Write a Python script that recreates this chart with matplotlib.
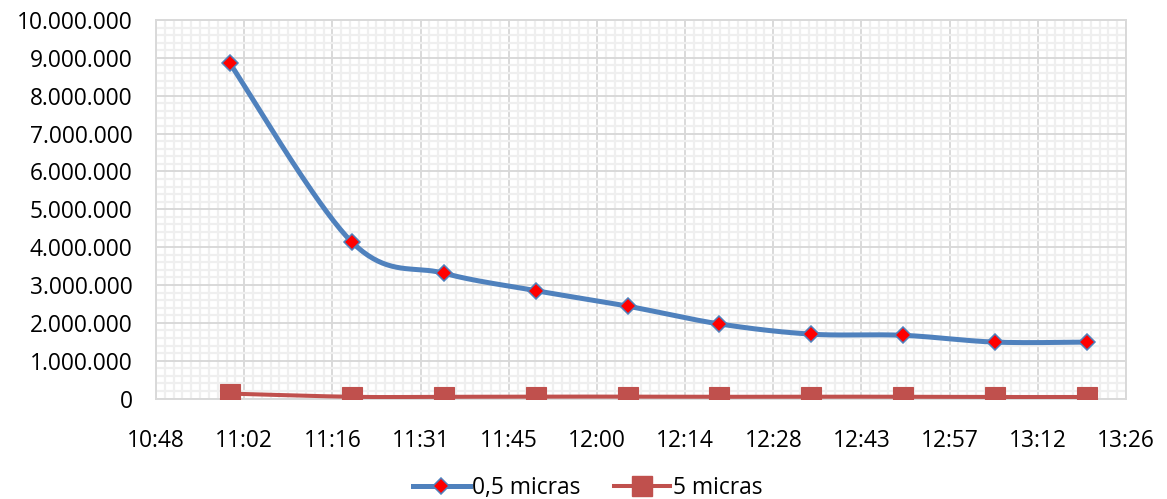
import numpy as np
import matplotlib
matplotlib.use("Agg")
import matplotlib.pyplot as plt
from matplotlib.ticker import MultipleLocator, FuncFormatter
from matplotlib.lines import Line2D

# Sampling times (hh:mm) and particle counts
times = ["11:00", "11:20", "11:35", "11:50", "12:05", "12:20", "12:35", "12:50", "13:05", "13:20"]
micras_05 = [8870000, 4130000, 3310000, 2850000, 2440000, 1970000, 1700000, 1670000, 1490000, 1490000]
micras_5 = [130000, 45000, 45000, 50000, 50000, 45000, 50000, 45000, 40000, 40000]
series_labels = ["0,5 micras", "5 micras"]

BLUE = "#4F81BD"
RED = "#C0504D"
FS = 16.4


def day_fraction(hhmm):
    h, m = hhmm.split(":")
    return (int(h) * 60 + int(m)) / 1440.0


def fmt_time(v, pos=None):
    minutes = int(np.floor(v * 1440 + 1e-6))
    return f"{minutes // 60}:{minutes % 60:02d}"


def fmt_thousands(v, pos=None):
    return f"{int(round(v)):,}".replace(",", ".")


def smooth_curve(xs, ys, sx, sy, n=40):
    """Cubic Bezier smoothing (Catmull-Rom style tangents) in screen-scaled space."""
    pts = np.column_stack([np.asarray(xs) / sx, np.asarray(ys) / sy])
    k = len(pts)
    t = np.linspace(0, 1, n)[:, None]
    out = []
    for i in range(k - 1):
        p0 = pts[max(i - 1, 0)]
        p1 = pts[i]
        p2 = pts[i + 1]
        p3 = pts[min(i + 2, k - 1)]
        c1 = p1 + (p2 - p0) / 6.0
        c2 = p2 - (p3 - p1) / 6.0
        seg = ((1 - t) ** 3) * p1 + 3 * ((1 - t) ** 2) * t * c1 + 3 * (1 - t) * t ** 2 * c2 + t ** 3 * p2
        out.append(seg if i == 0 else seg[1:])
    out = np.vstack(out)
    return out[:, 0] * sx, out[:, 1] * sy


x = np.array([day_fraction(t) for t in times])

plt.rcParams["font.family"] = ["Open Sans", "DejaVu Sans"]

fig = plt.figure(figsize=(11.67, 4.99), dpi=100)
ax = fig.add_axes([0.1337, 0.2014, 0.8312, 0.7585])

x_min, x_max = 0.45, 0.56
y_min, y_max = 0, 10_000_000
ax.set_xlim(x_min, x_max)
ax.set_ylim(y_min, y_max)

ax.xaxis.set_major_locator(MultipleLocator(0.01))
ax.xaxis.set_minor_locator(MultipleLocator(0.001))
ax.yaxis.set_major_locator(MultipleLocator(1_000_000))
ax.yaxis.set_minor_locator(MultipleLocator(200_000))
ax.xaxis.set_major_formatter(FuncFormatter(fmt_time))
ax.yaxis.set_major_formatter(FuncFormatter(fmt_thousands))

ax.grid(which="minor", color="#EFEFEF", linewidth=1.6, zorder=0)
ax.grid(which="major", color="#D9D9D9", linewidth=1.4, zorder=0.5)
ax.set_axisbelow(True)
for side in ax.spines.values():
    side.set_color("#D9D9D9")
    side.set_linewidth(1.4)

ax.tick_params(which="both", length=0)
ax.tick_params(axis="x", pad=22, labelsize=FS, colors="black")
ax.tick_params(axis="y", pad=17, labelsize=FS, colors="black")

# Pixel-equivalent scales so the smoothing follows the drawn geometry
bbox = ax.get_window_extent()
sx = (x_max - x_min) / bbox.width
sy = (y_max - y_min) / bbox.height

bx, by = smooth_curve(x, micras_05, sx, sy)
ax.plot(bx, by, color=BLUE, linewidth=3.6, solid_capstyle="round", zorder=3)
ax.plot(x, micras_05, linestyle="none", marker="D", markersize=8,
        markerfacecolor="#FF0000", markeredgecolor=BLUE, markeredgewidth=1.1, zorder=4)

rx, ry = smooth_curve(x, micras_5, sx, sy)
ax.plot(rx, ry, color=RED, linewidth=2.9, solid_capstyle="round", zorder=3)
ax.plot(x, micras_5, linestyle="none", marker="s", markersize=14.5,
        markerfacecolor=RED, markeredgecolor=RED, markeredgewidth=0.8, zorder=4)

handles = [
    Line2D([], [], color=BLUE, linewidth=3.6, marker="D", markersize=8,
           markerfacecolor="#FF0000", markeredgecolor=BLUE, markeredgewidth=1.1),
    Line2D([], [], color=RED, linewidth=2.9, marker="s", markersize=14.5,
           markerfacecolor=RED, markeredgecolor=RED),
]
fig.legend(handles, series_labels, loc="center", bbox_to_anchor=(0.5035, 0.022),
           ncol=2, frameon=False, fontsize=FS, handlelength=2.5,
           handletextpad=0.1, columnspacing=1.45)

fig.savefig("out.png", dpi=100)
